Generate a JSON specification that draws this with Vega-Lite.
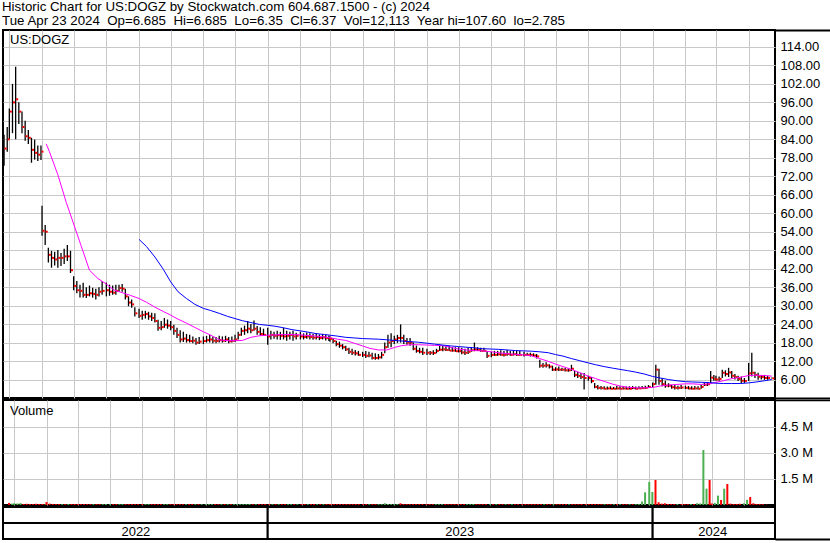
{
"$schema": "https://vega.github.io/schema/vega-lite/v6.json",
"background": "white",
"padding": {"left": 1, "top": 0, "right": 0, "bottom": 0},
"spacing": 2,
"bounds": "flush",
"resolve": {"scale": {"color": "independent", "x": "independent", "y": "independent"}},
"config": {
  "font": "Liberation Sans",
  "view": {"stroke": "black", "strokeWidth": 2},
  "axis": {"labelFont": "Liberation Sans", "labelFontSize": 13, "labelColor": "#000000", "gridColor": "#c8c8c8", "gridWidth": 1, "gridOpacity": 1, "ticks": false, "domain": false, "labelOverlap": false},
  "axisY": {"labelOverlap": false},
  "axisRight": {"labelOverlap": false},
  "axisQuantitative": {"labelOverlap": false}
},
"title": {
  "text": ["Historic Chart for US:DOGZ by Stockwatch.com 604.687.1500 - (c) 2024", "Tue Apr 23 2024\u00a0 Op=6.685\u00a0 Hi=6.685\u00a0 Lo=6.35\u00a0 Cl=6.37\u00a0 Vol=12,113\u00a0 Year hi=107.60\u00a0 lo=2.785"],
  "anchor": "start", "font": "Liberation Sans", "fontSize": 13.3, "fontWeight": "normal", "color": "#000000", "lineHeight": 14, "offset": 2, "dy": 1.5, "dx": 1
},
"datasets": {
"px": [
{"d":"2022-04-26","h":85.5,"l":75.4,"c":81,"v":120000,"dir":"dn"},
{"d":"2022-04-29","h":88,"l":80,"c":84,"v":80000,"dir":"up"},
{"d":"2022-05-01","h":94,"l":84,"c":93,"v":100000,"dir":"up"},
{"d":"2022-05-04","h":102,"l":86,"c":96,"v":90000,"dir":"up"},
{"d":"2022-05-07","h":107.6,"l":84,"c":97,"v":110000,"dir":"up"},
{"d":"2022-05-10","h":96,"l":89,"c":93,"v":60000,"dir":"dn"},
{"d":"2022-05-13","h":93,"l":86,"c":88,"v":70000,"dir":"dn"},
{"d":"2022-05-16","h":90,"l":83.5,"c":85,"v":60000,"dir":"dn"},
{"d":"2022-05-19","h":87,"l":82.5,"c":84.5,"v":50000,"dir":"dn"},
{"d":"2022-05-22","h":84.5,"l":76.4,"c":80.6,"v":70000,"dir":"dn"},
{"d":"2022-05-25","h":83.9,"l":77.4,"c":79.6,"v":60000,"dir":"dn"},
{"d":"2022-05-28","h":82,"l":77,"c":79,"v":60000,"dir":"dn"},
{"d":"2022-05-31","h":82,"l":77.3,"c":80,"v":50000,"dir":"up"},
{"d":"2022-06-01","h":62.4,"l":52.7,"c":54.3,"v":170000,"dir":"dn"},
{"d":"2022-06-04","h":56.2,"l":49.7,"c":54,"v":80000,"dir":"dn"},
{"d":"2022-06-07","h":48.8,"l":44,"c":46.5,"v":60000,"dir":"dn"},
{"d":"2022-06-10","h":47.8,"l":42.3,"c":45.5,"v":50000,"dir":"dn"},
{"d":"2022-06-13","h":47.5,"l":43,"c":45,"v":50000,"dir":"dn"},
{"d":"2022-06-16","h":48.1,"l":42.3,"c":45.5,"v":50000,"dir":"up"},
{"d":"2022-06-19","h":47.1,"l":42.9,"c":45.5,"v":50000,"dir":"dn"},
{"d":"2022-06-22","h":48.5,"l":43.5,"c":46,"v":60000,"dir":"up"},
{"d":"2022-06-25","h":49.7,"l":44.5,"c":46,"v":50000,"dir":"dn"},
{"d":"2022-06-28","h":47.8,"l":40.6,"c":41.5,"v":60000,"dir":"dn"},
{"d":"2022-07-01","h":39.5,"l":35,"c":36.4,"v":60000,"dir":"dn"},
{"d":"2022-07-04","h":38,"l":34,"c":35,"v":50000,"dir":"dn"},
{"d":"2022-07-07","h":36.8,"l":32.6,"c":34.8,"v":50000,"dir":"dn"},
{"d":"2022-07-10","h":37.4,"l":32.6,"c":33.5,"v":50000,"dir":"dn"},
{"d":"2022-07-13","h":36,"l":32.5,"c":33.5,"v":50000,"dir":"dn"},
{"d":"2022-07-16","h":36.5,"l":33,"c":34,"v":50000,"dir":"up"},
{"d":"2022-07-19","h":35.8,"l":32.6,"c":33.8,"v":50000,"dir":"dn"},
{"d":"2022-07-22","h":35.5,"l":32,"c":33.5,"v":50000,"dir":"dn"},
{"d":"2022-07-25","h":36,"l":33,"c":34.5,"v":50000,"dir":"up"},
{"d":"2022-07-28","h":38,"l":33.5,"c":34.8,"v":60000,"dir":"up"},
{"d":"2022-08-01","h":37.5,"l":33,"c":35,"v":50000,"dir":"up"},
{"d":"2022-08-04","h":36.8,"l":33.2,"c":34.5,"v":50000,"dir":"dn"},
{"d":"2022-08-07","h":36.5,"l":33.5,"c":34.2,"v":50000,"dir":"dn"},
{"d":"2022-08-10","h":36.8,"l":33.5,"c":34.8,"v":50000,"dir":"up"},
{"d":"2022-08-13","h":36.8,"l":34.5,"c":35.7,"v":50000,"dir":"up"},
{"d":"2022-08-16","h":37,"l":34.5,"c":35.5,"v":50000,"dir":"dn"},
{"d":"2022-08-19","h":35.5,"l":32,"c":33,"v":50000,"dir":"dn"},
{"d":"2022-08-22","h":33,"l":29.8,"c":31,"v":50000,"dir":"dn"},
{"d":"2022-08-25","h":32,"l":29.3,"c":30.4,"v":50000,"dir":"dn"},
{"d":"2022-08-28","h":29.5,"l":26.5,"c":27.5,"v":50000,"dir":"dn"},
{"d":"2022-09-01","h":29,"l":26,"c":26.7,"v":50000,"dir":"dn"},
{"d":"2022-09-04","h":28.3,"l":25.4,"c":27,"v":50000,"dir":"up"},
{"d":"2022-09-07","h":28.3,"l":25.8,"c":27.3,"v":50000,"dir":"up"},
{"d":"2022-09-10","h":28,"l":25.4,"c":26.5,"v":50000,"dir":"dn"},
{"d":"2022-09-13","h":27.7,"l":25,"c":26,"v":50000,"dir":"dn"},
{"d":"2022-09-16","h":27.5,"l":24.5,"c":25,"v":50000,"dir":"dn"},
{"d":"2022-09-19","h":25.4,"l":21.8,"c":22.8,"v":50000,"dir":"dn"},
{"d":"2022-09-22","h":25,"l":22,"c":23,"v":50000,"dir":"up"},
{"d":"2022-09-25","h":26,"l":22.8,"c":23.8,"v":50000,"dir":"up"},
{"d":"2022-09-28","h":25.5,"l":22.5,"c":23.5,"v":50000,"dir":"dn"},
{"d":"2022-10-01","h":25,"l":22,"c":23,"v":50000,"dir":"dn"},
{"d":"2022-10-04","h":23.8,"l":20.5,"c":21.8,"v":50000,"dir":"dn"},
{"d":"2022-10-07","h":22.8,"l":19.5,"c":20.5,"v":50000,"dir":"dn"},
{"d":"2022-10-10","h":22,"l":18,"c":19,"v":50000,"dir":"dn"},
{"d":"2022-10-13","h":21.5,"l":18.2,"c":19.3,"v":50000,"dir":"up"},
{"d":"2022-10-16","h":20.8,"l":18,"c":18.8,"v":50000,"dir":"dn"},
{"d":"2022-10-19","h":20.5,"l":18,"c":18.5,"v":50000,"dir":"dn"},
{"d":"2022-10-22","h":20,"l":17.8,"c":18.6,"v":50000,"dir":"up"},
{"d":"2022-10-25","h":19.5,"l":17.3,"c":18,"v":50000,"dir":"dn"},
{"d":"2022-10-28","h":19.8,"l":17.5,"c":18.3,"v":50000,"dir":"up"},
{"d":"2022-11-01","h":20,"l":17.5,"c":18.5,"v":50000,"dir":"up"},
{"d":"2022-11-04","h":20.2,"l":18,"c":18.8,"v":50000,"dir":"up"},
{"d":"2022-11-07","h":20.5,"l":18,"c":19,"v":50000,"dir":"up"},
{"d":"2022-11-10","h":20,"l":17.8,"c":18.6,"v":50000,"dir":"dn"},
{"d":"2022-11-13","h":19.8,"l":17.8,"c":18.5,"v":50000,"dir":"dn"},
{"d":"2022-11-16","h":20.2,"l":18,"c":18.8,"v":50000,"dir":"up"},
{"d":"2022-11-19","h":20,"l":18,"c":18.6,"v":50000,"dir":"dn"},
{"d":"2022-11-22","h":20.2,"l":18.2,"c":19,"v":50000,"dir":"up"},
{"d":"2022-11-25","h":19.8,"l":17.8,"c":18.4,"v":50000,"dir":"dn"},
{"d":"2022-11-28","h":20,"l":18,"c":18.6,"v":50000,"dir":"up"},
{"d":"2022-12-01","h":20.5,"l":18.2,"c":19,"v":50000,"dir":"up"},
{"d":"2022-12-04","h":21.5,"l":19,"c":20.5,"v":50000,"dir":"up"},
{"d":"2022-12-07","h":22.8,"l":20.2,"c":21.8,"v":50000,"dir":"up"},
{"d":"2022-12-10","h":23.5,"l":20.5,"c":22,"v":50000,"dir":"up"},
{"d":"2022-12-13","h":25,"l":21,"c":22.5,"v":60000,"dir":"up"},
{"d":"2022-12-16","h":24,"l":21,"c":22,"v":50000,"dir":"dn"},
{"d":"2022-12-19","h":25.2,"l":21.8,"c":22.5,"v":50000,"dir":"up"},
{"d":"2022-12-22","h":23.4,"l":20.5,"c":21.5,"v":50000,"dir":"dn"},
{"d":"2022-12-25","h":23,"l":20.2,"c":20.8,"v":50000,"dir":"dn"},
{"d":"2022-12-28","h":22.5,"l":20.2,"c":20.5,"v":50000,"dir":"dn"},
{"d":"2023-01-01","h":22.8,"l":17.3,"c":20,"v":50000,"dir":"dn"},
{"d":"2023-01-04","h":21.8,"l":19,"c":20.5,"v":50000,"dir":"up"},
{"d":"2023-01-07","h":21.5,"l":19.2,"c":20.2,"v":50000,"dir":"dn"},
{"d":"2023-01-10","h":21.8,"l":19,"c":20.4,"v":50000,"dir":"up"},
{"d":"2023-01-13","h":21.5,"l":18.9,"c":20.2,"v":50000,"dir":"dn"},
{"d":"2023-01-16","h":22.8,"l":19,"c":20,"v":50000,"dir":"dn"},
{"d":"2023-01-19","h":21.8,"l":18.6,"c":20.2,"v":50000,"dir":"up"},
{"d":"2023-01-22","h":21.5,"l":19,"c":20.5,"v":50000,"dir":"up"},
{"d":"2023-01-25","h":21.8,"l":18.6,"c":20,"v":50000,"dir":"dn"},
{"d":"2023-01-28","h":21.2,"l":19,"c":20.2,"v":50000,"dir":"up"},
{"d":"2023-02-01","h":21.5,"l":19,"c":20,"v":50000,"dir":"dn"},
{"d":"2023-02-04","h":21,"l":19,"c":19.8,"v":50000,"dir":"dn"},
{"d":"2023-02-07","h":21.3,"l":19.2,"c":20,"v":50000,"dir":"up"},
{"d":"2023-02-10","h":21,"l":19,"c":19.8,"v":50000,"dir":"dn"},
{"d":"2023-02-13","h":20.8,"l":18.9,"c":19.6,"v":50000,"dir":"dn"},
{"d":"2023-02-16","h":21,"l":19,"c":19.8,"v":50000,"dir":"up"},
{"d":"2023-02-19","h":20.6,"l":18.8,"c":19.5,"v":50000,"dir":"dn"},
{"d":"2023-02-22","h":20.8,"l":19,"c":19.7,"v":50000,"dir":"up"},
{"d":"2023-02-25","h":20.5,"l":18.7,"c":19.5,"v":50000,"dir":"dn"},
{"d":"2023-02-28","h":20.3,"l":18.5,"c":19.3,"v":50000,"dir":"dn"},
{"d":"2023-03-01","h":20,"l":18.3,"c":19.2,"v":50000,"dir":"dn"},
{"d":"2023-03-04","h":19.5,"l":17.8,"c":18.5,"v":50000,"dir":"dn"},
{"d":"2023-03-07","h":18.6,"l":16.8,"c":17.5,"v":50000,"dir":"dn"},
{"d":"2023-03-10","h":18.3,"l":16.3,"c":17,"v":50000,"dir":"dn"},
{"d":"2023-03-13","h":17.5,"l":15.8,"c":16.5,"v":50000,"dir":"dn"},
{"d":"2023-03-16","h":17,"l":15.3,"c":15.8,"v":50000,"dir":"dn"},
{"d":"2023-03-19","h":16.3,"l":14.3,"c":15,"v":50000,"dir":"dn"},
{"d":"2023-03-22","h":16,"l":14,"c":14.7,"v":50000,"dir":"dn"},
{"d":"2023-03-25","h":15.6,"l":13.8,"c":14.5,"v":50000,"dir":"dn"},
{"d":"2023-03-28","h":15.3,"l":13.7,"c":14,"v":50000,"dir":"dn"},
{"d":"2023-04-01","h":15,"l":13.3,"c":14,"v":50000,"dir":"dn"},
{"d":"2023-04-04","h":15.3,"l":13,"c":13.7,"v":50000,"dir":"dn"},
{"d":"2023-04-07","h":15,"l":13.2,"c":13.8,"v":50000,"dir":"up"},
{"d":"2023-04-10","h":14.7,"l":12.5,"c":13,"v":50000,"dir":"dn"},
{"d":"2023-04-13","h":14.5,"l":12.4,"c":13,"v":50000,"dir":"dn"},
{"d":"2023-04-16","h":14.3,"l":12.5,"c":13.2,"v":50000,"dir":"up"},
{"d":"2023-04-19","h":15,"l":12.8,"c":14,"v":50000,"dir":"up"},
{"d":"2023-04-22","h":18,"l":14.5,"c":16.5,"v":100000,"dir":"up"},
{"d":"2023-04-25","h":20.5,"l":16.3,"c":18,"v":60000,"dir":"up"},
{"d":"2023-04-28","h":21,"l":16.5,"c":18.5,"v":50000,"dir":"up"},
{"d":"2023-05-01","h":20.2,"l":17.5,"c":19,"v":50000,"dir":"up"},
{"d":"2023-05-04","h":20.5,"l":17.9,"c":19.5,"v":50000,"dir":"up"},
{"d":"2023-05-07","h":23.9,"l":18,"c":19.5,"v":100000,"dir":"dn"},
{"d":"2023-05-10","h":20.5,"l":17.5,"c":18.5,"v":50000,"dir":"dn"},
{"d":"2023-05-13","h":19.5,"l":17.3,"c":18,"v":50000,"dir":"dn"},
{"d":"2023-05-16","h":19.5,"l":17,"c":18,"v":50000,"dir":"dn"},
{"d":"2023-05-19","h":18,"l":15.5,"c":16,"v":50000,"dir":"dn"},
{"d":"2023-05-22","h":17,"l":14.7,"c":15.3,"v":50000,"dir":"dn"},
{"d":"2023-05-25","h":16.3,"l":14.5,"c":15,"v":50000,"dir":"dn"},
{"d":"2023-05-28","h":16.3,"l":14,"c":14.7,"v":50000,"dir":"dn"},
{"d":"2023-06-01","h":16,"l":14,"c":14.7,"v":50000,"dir":"dn"},
{"d":"2023-06-04","h":15.3,"l":14,"c":14.7,"v":50000,"dir":"dn"},
{"d":"2023-06-07","h":15.5,"l":14,"c":14.6,"v":50000,"dir":"dn"},
{"d":"2023-06-10","h":16,"l":14.5,"c":15.3,"v":50000,"dir":"up"},
{"d":"2023-06-13","h":16.9,"l":15.3,"c":15.7,"v":50000,"dir":"up"},
{"d":"2023-06-16","h":16.9,"l":15.2,"c":15.8,"v":50000,"dir":"up"},
{"d":"2023-06-19","h":16.8,"l":15.3,"c":15.6,"v":50000,"dir":"dn"},
{"d":"2023-06-22","h":16.9,"l":15.3,"c":15.4,"v":50000,"dir":"dn"},
{"d":"2023-06-25","h":16.6,"l":15,"c":15.4,"v":50000,"dir":"dn"},
{"d":"2023-06-28","h":16.5,"l":15,"c":15.2,"v":50000,"dir":"dn"},
{"d":"2023-07-01","h":16.5,"l":14.8,"c":15.2,"v":50000,"dir":"dn"},
{"d":"2023-07-04","h":16.3,"l":14.2,"c":14.8,"v":50000,"dir":"dn"},
{"d":"2023-07-07","h":16,"l":14,"c":14.7,"v":50000,"dir":"dn"},
{"d":"2023-07-10","h":16.3,"l":14.3,"c":15,"v":50000,"dir":"up"},
{"d":"2023-07-13","h":16.5,"l":15,"c":15.5,"v":50000,"dir":"up"},
{"d":"2023-07-16","h":18,"l":15.2,"c":15.8,"v":60000,"dir":"up"},
{"d":"2023-07-19","h":16.5,"l":15.3,"c":15.6,"v":50000,"dir":"dn"},
{"d":"2023-07-22","h":16.3,"l":15,"c":15.3,"v":50000,"dir":"dn"},
{"d":"2023-07-25","h":16.3,"l":15,"c":15.3,"v":50000,"dir":"dn"},
{"d":"2023-07-28","h":15.3,"l":13,"c":13.7,"v":50000,"dir":"dn"},
{"d":"2023-08-01","h":15,"l":13.2,"c":14,"v":50000,"dir":"up"},
{"d":"2023-08-04","h":15.3,"l":13.7,"c":14,"v":50000,"dir":"dn"},
{"d":"2023-08-07","h":15.3,"l":13.7,"c":14.2,"v":50000,"dir":"up"},
{"d":"2023-08-10","h":15.5,"l":13.7,"c":14,"v":50000,"dir":"dn"},
{"d":"2023-08-13","h":15.3,"l":13.5,"c":14,"v":50000,"dir":"dn"},
{"d":"2023-08-16","h":15.6,"l":13.7,"c":14.3,"v":50000,"dir":"up"},
{"d":"2023-08-19","h":15.3,"l":13.7,"c":14,"v":50000,"dir":"dn"},
{"d":"2023-08-22","h":15.3,"l":13.8,"c":14.2,"v":50000,"dir":"up"},
{"d":"2023-08-25","h":15.5,"l":13.7,"c":14,"v":50000,"dir":"dn"},
{"d":"2023-08-28","h":15.3,"l":13.7,"c":14,"v":50000,"dir":"dn"},
{"d":"2023-09-01","h":15,"l":13.5,"c":14,"v":50000,"dir":"dn"},
{"d":"2023-09-04","h":14.7,"l":13.7,"c":14,"v":50000,"dir":"dn"},
{"d":"2023-09-07","h":14.7,"l":13.5,"c":14,"v":50000,"dir":"dn"},
{"d":"2023-09-10","h":14.5,"l":13.3,"c":13.8,"v":50000,"dir":"dn"},
{"d":"2023-09-13","h":14.3,"l":12.8,"c":13.5,"v":50000,"dir":"dn"},
{"d":"2023-09-16","h":12.4,"l":9.8,"c":10.5,"v":60000,"dir":"dn"},
{"d":"2023-09-19","h":11.4,"l":9.8,"c":10.5,"v":50000,"dir":"dn"},
{"d":"2023-09-22","h":11.6,"l":9.9,"c":10.6,"v":50000,"dir":"up"},
{"d":"2023-09-25","h":11,"l":9.6,"c":10.2,"v":50000,"dir":"dn"},
{"d":"2023-09-28","h":10.5,"l":8.8,"c":9.2,"v":50000,"dir":"dn"},
{"d":"2023-10-01","h":10,"l":8.8,"c":9.3,"v":50000,"dir":"up"},
{"d":"2023-10-04","h":10.2,"l":8.8,"c":9.2,"v":50000,"dir":"dn"},
{"d":"2023-10-07","h":9.8,"l":8.8,"c":9.2,"v":50000,"dir":"dn"},
{"d":"2023-10-10","h":9.8,"l":8.6,"c":9,"v":50000,"dir":"dn"},
{"d":"2023-10-13","h":9.6,"l":8.5,"c":9,"v":50000,"dir":"dn"},
{"d":"2023-10-16","h":10.8,"l":8.8,"c":9.5,"v":50000,"dir":"up"},
{"d":"2023-10-19","h":8.8,"l":6.8,"c":7.5,"v":50000,"dir":"dn"},
{"d":"2023-10-22","h":8.5,"l":6.5,"c":7.2,"v":50000,"dir":"dn"},
{"d":"2023-10-25","h":8.2,"l":6.2,"c":6.8,"v":50000,"dir":"dn"},
{"d":"2023-10-28","h":8.1,"l":2.8,"c":6.5,"v":60000,"dir":"dn"},
{"d":"2023-11-01","h":7.2,"l":5.6,"c":6.5,"v":50000,"dir":"dn"},
{"d":"2023-11-04","h":6.8,"l":4.8,"c":5.5,"v":50000,"dir":"dn"},
{"d":"2023-11-07","h":4.9,"l":3.2,"c":3.6,"v":50000,"dir":"dn"},
{"d":"2023-11-10","h":4.2,"l":2.8,"c":3.3,"v":50000,"dir":"dn"},
{"d":"2023-11-13","h":3.9,"l":2.8,"c":3.2,"v":50000,"dir":"dn"},
{"d":"2023-11-16","h":3.8,"l":2.8,"c":3.0,"v":50000,"dir":"dn"},
{"d":"2023-11-19","h":3.7,"l":2.8,"c":3.1,"v":50000,"dir":"up"},
{"d":"2023-11-22","h":3.8,"l":2.8,"c":3.0,"v":50000,"dir":"dn"},
{"d":"2023-11-25","h":3.6,"l":2.8,"c":3.0,"v":50000,"dir":"dn"},
{"d":"2023-11-28","h":3.9,"l":2.8,"c":3.1,"v":50000,"dir":"up"},
{"d":"2023-12-01","h":3.8,"l":2.8,"c":3.0,"v":50000,"dir":"dn"},
{"d":"2023-12-04","h":3.9,"l":2.8,"c":3.1,"v":50000,"dir":"up"},
{"d":"2023-12-07","h":3.7,"l":2.8,"c":3.0,"v":50000,"dir":"dn"},
{"d":"2023-12-10","h":3.8,"l":2.785,"c":3.0,"v":50000,"dir":"dn"},
{"d":"2023-12-13","h":3.9,"l":2.9,"c":3.2,"v":50000,"dir":"up"},
{"d":"2023-12-16","h":3.7,"l":2.8,"c":3.0,"v":50000,"dir":"dn"},
{"d":"2023-12-19","h":3.8,"l":2.9,"c":3.1,"v":50000,"dir":"up"},
{"d":"2023-12-22","h":3.9,"l":2.9,"c":3.2,"v":60000,"dir":"up"},
{"d":"2023-12-25","h":4.0,"l":3.0,"c":3.3,"v":200000,"dir":"up"},
{"d":"2023-12-28","h":4.2,"l":3.3,"c":3.6,"v":730000,"dir":"up"},
{"d":"2024-01-01","h":5.0,"l":3.5,"c":4.5,"v":1330000,"dir":"up"},
{"d":"2024-01-04","h":10.8,"l":4.3,"c":9.2,"v":750000,"dir":"up"},
{"d":"2024-01-07","h":9.5,"l":4.3,"c":5.5,"v":1440000,"dir":"dn"},
{"d":"2024-01-10","h":6.5,"l":3.8,"c":4.5,"v":160000,"dir":"dn"},
{"d":"2024-01-13","h":5.6,"l":3.3,"c":4.0,"v":80000,"dir":"dn"},
{"d":"2024-01-16","h":4.8,"l":3.5,"c":4.0,"v":100000,"dir":"dn"},
{"d":"2024-01-19","h":4.3,"l":3.0,"c":3.5,"v":60000,"dir":"dn"},
{"d":"2024-01-22","h":4.3,"l":2.8,"c":3.3,"v":50000,"dir":"dn"},
{"d":"2024-01-25","h":4.0,"l":2.8,"c":3.3,"v":50000,"dir":"dn"},
{"d":"2024-01-28","h":4.2,"l":2.9,"c":3.4,"v":60000,"dir":"up"},
{"d":"2024-02-01","h":4.0,"l":2.9,"c":3.3,"v":50000,"dir":"dn"},
{"d":"2024-02-04","h":3.9,"l":2.8,"c":3.1,"v":50000,"dir":"dn"},
{"d":"2024-02-07","h":3.8,"l":2.8,"c":3.0,"v":50000,"dir":"dn"},
{"d":"2024-02-10","h":3.9,"l":2.8,"c":3.1,"v":60000,"dir":"up"},
{"d":"2024-02-13","h":3.8,"l":2.8,"c":3.0,"v":50000,"dir":"dn"},
{"d":"2024-02-16","h":4.2,"l":3.0,"c":3.6,"v":100000,"dir":"up"},
{"d":"2024-02-19","h":4.9,"l":3.9,"c":4.3,"v":90000,"dir":"up"},
{"d":"2024-02-22","h":5.0,"l":3.9,"c":4.5,"v":3170000,"dir":"up"},
{"d":"2024-02-25","h":8.8,"l":4.9,"c":6.6,"v":940000,"dir":"up"},
{"d":"2024-02-28","h":7.5,"l":5.6,"c":6.2,"v":1440000,"dir":"dn"},
{"d":"2024-03-01","h":7.2,"l":5.6,"c":6.0,"v":90000,"dir":"dn"},
{"d":"2024-03-04","h":7.0,"l":5.6,"c":6.2,"v":120000,"dir":"up"},
{"d":"2024-03-07","h":9.2,"l":6.5,"c":8.2,"v":540000,"dir":"up"},
{"d":"2024-03-10","h":9.0,"l":7.0,"c":7.8,"v":290000,"dir":"dn"},
{"d":"2024-03-13","h":9.8,"l":6.8,"c":8.3,"v":940000,"dir":"up"},
{"d":"2024-03-16","h":8.8,"l":6.5,"c":7.2,"v":1210000,"dir":"dn"},
{"d":"2024-03-19","h":7.8,"l":6.0,"c":6.8,"v":80000,"dir":"dn"},
{"d":"2024-03-22","h":7.2,"l":5.5,"c":6.2,"v":60000,"dir":"dn"},
{"d":"2024-03-25","h":7.0,"l":4.9,"c":5.6,"v":60000,"dir":"dn"},
{"d":"2024-03-28","h":6.5,"l":4.9,"c":5.5,"v":70000,"dir":"dn"},
{"d":"2024-04-01","h":11.4,"l":5.5,"c":8.0,"v":100000,"dir":"up"},
{"d":"2024-04-04","h":14.7,"l":7.0,"c":8.2,"v":300000,"dir":"up"},
{"d":"2024-04-07","h":8.5,"l":6.5,"c":7.5,"v":460000,"dir":"dn"},
{"d":"2024-04-10","h":8.2,"l":5.9,"c":6.9,"v":100000,"dir":"dn"},
{"d":"2024-04-13","h":7.5,"l":6.0,"c":6.8,"v":60000,"dir":"dn"},
{"d":"2024-04-16","h":7.5,"l":5.9,"c":6.5,"v":60000,"dir":"dn"},
{"d":"2024-04-19","h":7.2,"l":5.9,"c":6.5,"v":50000,"dir":"dn"},
{"d":"2024-04-23","h":6.685,"l":6.35,"c":6.37,"v":12113,"dir":"dn"}
],
"ma": [
{"d":"2022-06-05","s":"m1","v":82.5},{"d":"2022-06-08","s":"m1","v":80},{"d":"2022-06-16","s":"m1","v":72.5},{"d":"2022-06-24","s":"m1","v":63.5},
{"d":"2022-07-01","s":"m1","v":56.5},{"d":"2022-07-08","s":"m1","v":49.5},{"d":"2022-07-16","s":"m1","v":41.5},{"d":"2022-07-24","s":"m1","v":38.8},
{"d":"2022-08-01","s":"m1","v":37},{"d":"2022-08-08","s":"m1","v":35.1},{"d":"2022-08-16","s":"m1","v":34.2},{"d":"2022-08-24","s":"m1","v":33.3},
{"d":"2022-09-01","s":"m1","v":32.3},{"d":"2022-09-08","s":"m1","v":31.1},{"d":"2022-09-16","s":"m1","v":29.5},{"d":"2022-09-24","s":"m1","v":28.1},
{"d":"2022-10-01","s":"m1","v":26.9},{"d":"2022-10-08","s":"m1","v":25.6},{"d":"2022-10-16","s":"m1","v":24.3},{"d":"2022-10-24","s":"m1","v":22.9},
{"d":"2022-11-01","s":"m1","v":21.5},{"d":"2022-11-08","s":"m1","v":20.4},{"d":"2022-11-16","s":"m1","v":18.9},{"d":"2022-11-24","s":"m1","v":18.6},
{"d":"2022-12-01","s":"m1","v":18.6},{"d":"2022-12-08","s":"m1","v":18.7},{"d":"2022-12-16","s":"m1","v":19.7},{"d":"2022-12-24","s":"m1","v":20.2},
{"d":"2023-01-01","s":"m1","v":20.4},{"d":"2023-01-08","s":"m1","v":20.5},{"d":"2023-01-16","s":"m1","v":20.6},{"d":"2023-01-24","s":"m1","v":20.6},
{"d":"2023-02-01","s":"m1","v":20.5},{"d":"2023-02-08","s":"m1","v":20.3},{"d":"2023-02-16","s":"m1","v":20.1},{"d":"2023-02-24","s":"m1","v":19.8},
{"d":"2023-03-01","s":"m1","v":19.6},{"d":"2023-03-08","s":"m1","v":19.1},{"d":"2023-03-16","s":"m1","v":18.7},{"d":"2023-03-24","s":"m1","v":17.8},
{"d":"2023-04-01","s":"m1","v":16.9},{"d":"2023-04-08","s":"m1","v":16.1},{"d":"2023-04-16","s":"m1","v":15.6},{"d":"2023-04-24","s":"m1","v":15.6},
{"d":"2023-05-01","s":"m1","v":16.4},{"d":"2023-05-08","s":"m1","v":17},{"d":"2023-05-16","s":"m1","v":17.3},{"d":"2023-05-24","s":"m1","v":17.3},
{"d":"2023-06-01","s":"m1","v":17.2},{"d":"2023-06-08","s":"m1","v":17.1},{"d":"2023-06-16","s":"m1","v":17},{"d":"2023-06-24","s":"m1","v":16.4},
{"d":"2023-07-01","s":"m1","v":15.9},{"d":"2023-07-08","s":"m1","v":15.6},{"d":"2023-07-16","s":"m1","v":15.4},{"d":"2023-07-24","s":"m1","v":15.3},
{"d":"2023-08-01","s":"m1","v":15},{"d":"2023-08-08","s":"m1","v":14.7},{"d":"2023-08-16","s":"m1","v":14.4},{"d":"2023-08-24","s":"m1","v":14.2},
{"d":"2023-09-01","s":"m1","v":14},{"d":"2023-09-08","s":"m1","v":13.7},{"d":"2023-09-16","s":"m1","v":12.8},{"d":"2023-09-24","s":"m1","v":11.9},
{"d":"2023-10-01","s":"m1","v":11},{"d":"2023-10-08","s":"m1","v":10.2},{"d":"2023-10-16","s":"m1","v":9.3},{"d":"2023-10-24","s":"m1","v":8.2},
{"d":"2023-11-01","s":"m1","v":7.1},{"d":"2023-11-08","s":"m1","v":6.3},{"d":"2023-11-16","s":"m1","v":5.4},{"d":"2023-11-24","s":"m1","v":4.5},
{"d":"2023-12-01","s":"m1","v":3.9},{"d":"2023-12-08","s":"m1","v":3.5},{"d":"2023-12-16","s":"m1","v":3.3},{"d":"2023-12-24","s":"m1","v":3.3},
{"d":"2024-01-01","s":"m1","v":3.4},{"d":"2024-01-08","s":"m1","v":3.9},{"d":"2024-01-16","s":"m1","v":4.2},{"d":"2024-01-24","s":"m1","v":4.4},
{"d":"2024-02-01","s":"m1","v":4.6},{"d":"2024-02-08","s":"m1","v":4.6},{"d":"2024-02-16","s":"m1","v":4.4},{"d":"2024-02-24","s":"m1","v":4.6},
{"d":"2024-03-01","s":"m1","v":5.1},{"d":"2024-03-08","s":"m1","v":5.6},{"d":"2024-03-16","s":"m1","v":6.3},{"d":"2024-03-24","s":"m1","v":6.7},
{"d":"2024-04-01","s":"m1","v":7.3},{"d":"2024-04-08","s":"m1","v":7.4},{"d":"2024-04-16","s":"m1","v":7.3},{"d":"2024-04-23","s":"m1","v":7.1},
{"d":"2022-09-01","s":"m2","v":51.5},{"d":"2022-09-08","s":"m2","v":49.2},{"d":"2022-09-16","s":"m2","v":45.8},{"d":"2022-09-24","s":"m2","v":41.8},
{"d":"2022-10-01","s":"m2","v":37.7},{"d":"2022-10-08","s":"m2","v":34.5},{"d":"2022-10-16","s":"m2","v":32.3},{"d":"2022-10-24","s":"m2","v":30.4},
{"d":"2022-11-01","s":"m2","v":29.1},{"d":"2022-11-08","s":"m2","v":28.4},{"d":"2022-11-16","s":"m2","v":27.5},{"d":"2022-11-24","s":"m2","v":26.5},
{"d":"2022-12-01","s":"m2","v":25.8},{"d":"2022-12-08","s":"m2","v":25.1},{"d":"2022-12-16","s":"m2","v":24.5},{"d":"2022-12-24","s":"m2","v":23.9},
{"d":"2023-01-01","s":"m2","v":23.6},{"d":"2023-01-08","s":"m2","v":23.3},{"d":"2023-01-16","s":"m2","v":22.8},{"d":"2023-01-24","s":"m2","v":22.2},
{"d":"2023-02-01","s":"m2","v":21.8},{"d":"2023-02-08","s":"m2","v":21.4},{"d":"2023-02-16","s":"m2","v":20.9},{"d":"2023-02-24","s":"m2","v":20.6},
{"d":"2023-03-01","s":"m2","v":20.4},{"d":"2023-03-08","s":"m2","v":20.1},{"d":"2023-03-16","s":"m2","v":19.7},{"d":"2023-03-24","s":"m2","v":19.5},
{"d":"2023-04-01","s":"m2","v":19.3},{"d":"2023-04-08","s":"m2","v":19.2},{"d":"2023-04-16","s":"m2","v":19.1},{"d":"2023-04-24","s":"m2","v":18.9},
{"d":"2023-05-01","s":"m2","v":18.7},{"d":"2023-05-08","s":"m2","v":18.5},{"d":"2023-05-16","s":"m2","v":18.3},{"d":"2023-05-24","s":"m2","v":18.1},
{"d":"2023-06-01","s":"m2","v":17.8},{"d":"2023-06-08","s":"m2","v":17.5},{"d":"2023-06-16","s":"m2","v":17.2},{"d":"2023-06-24","s":"m2","v":16.9},
{"d":"2023-07-01","s":"m2","v":16.7},{"d":"2023-07-08","s":"m2","v":16.5},{"d":"2023-07-16","s":"m2","v":16.3},{"d":"2023-07-24","s":"m2","v":16},
{"d":"2023-08-01","s":"m2","v":15.9},{"d":"2023-08-08","s":"m2","v":15.8},{"d":"2023-08-16","s":"m2","v":15.6},{"d":"2023-08-24","s":"m2","v":15.4},
{"d":"2023-09-01","s":"m2","v":15.3},{"d":"2023-09-08","s":"m2","v":15.2},{"d":"2023-09-16","s":"m2","v":15},{"d":"2023-09-24","s":"m2","v":14.7},
{"d":"2023-10-01","s":"m2","v":14.1},{"d":"2023-10-08","s":"m2","v":13.6},{"d":"2023-10-16","s":"m2","v":12.8},{"d":"2023-10-24","s":"m2","v":12.1},
{"d":"2023-11-01","s":"m2","v":11.4},{"d":"2023-11-08","s":"m2","v":10.8},{"d":"2023-11-16","s":"m2","v":10.2},{"d":"2023-11-24","s":"m2","v":9.7},
{"d":"2023-12-01","s":"m2","v":9.3},{"d":"2023-12-08","s":"m2","v":8.9},{"d":"2023-12-16","s":"m2","v":8.4},{"d":"2023-12-24","s":"m2","v":7.8},
{"d":"2024-01-01","s":"m2","v":7.0},{"d":"2024-01-08","s":"m2","v":6.5},{"d":"2024-01-16","s":"m2","v":6.0},{"d":"2024-01-24","s":"m2","v":5.6},
{"d":"2024-02-01","s":"m2","v":5.3},{"d":"2024-02-08","s":"m2","v":5.2},{"d":"2024-02-16","s":"m2","v":5.1},{"d":"2024-02-24","s":"m2","v":5.0},
{"d":"2024-03-01","s":"m2","v":4.8},{"d":"2024-03-08","s":"m2","v":4.7},{"d":"2024-03-16","s":"m2","v":4.7},{"d":"2024-03-24","s":"m2","v":4.7},
{"d":"2024-04-01","s":"m2","v":4.9},{"d":"2024-04-08","s":"m2","v":5.2},{"d":"2024-04-16","s":"m2","v":5.6},{"d":"2024-04-23","s":"m2","v":6.0}
],
"yr": [
{"s":"2022-04-25","e":"2023-01-01","m":"2022-08-29","y":"2022"},
{"s":"2023-01-01","e":"2024-01-01","m":"2023-07-02","y":"2023"},
{"s":"2024-01-01","e":"2024-04-26","m":"2024-02-27","y":"2024"}
]
},
"vconcat": [
{
  "width": 772, "height": 368,
  "title": {"text": "US:DOGZ", "anchor": "start", "offset": -17.5, "dx": 7, "fontSize": 13, "fontWeight": "normal", "font": "Liberation Sans", "color": "#000000"},
  "layer": [
    {
      "data": {"name": "px"},
      "mark": {"type": "rule", "color": "#000000", "strokeWidth": 1.3},
      "encoding": {
        "x": {"field": "d", "type": "temporal", "scale": {"type": "utc", "domain": [{"year": 2022, "month": 4, "date": 25, "utc": true}, {"year": 2024, "month": 4, "date": 26, "utc": true}]}, "axis": {"grid": true, "labels": false, "ticks": false, "domain": false, "title": null, "tickCount": {"interval": "month", "step": 1}}},
        "y": {"field": "l", "type": "quantitative", "scale": {"domain": [0, 119.5], "nice": false, "zero": false}, "axis": {"orient": "right", "values": [0,6,12,18,24,30,36,42,48,54,60,66,72,78,84,90,96,102,108,114,119.5], "labelExpr": "datum.value < 1 || datum.value > 119 ? '' : format(datum.value, '.2f')", "labelFontSize": {"condition": {"test": "datum.value < 1 || datum.value > 119", "value": 0}, "value": 13}, "grid": true, "gridColor": {"condition": {"test": "datum.value < 1 || datum.value > 119", "value": "transparent"}, "value": "#c8c8c8"}, "ticks": true, "tickSize": 57, "tickWidth": 2, "tickColor": {"condition": {"test": "datum.value < 1 || datum.value > 119", "value": "#000000"}, "value": "transparent"}, "labelPadding": -52, "labelOverlap": false, "labelBound": false, "labelFlush": false, "title": null}},
        "y2": {"field": "h"}
      }
    },
    {
      "data": {"name": "px"},
      "mark": {"type": "square", "color": "#ff0000", "size": 4, "opacity": 1, "xOffset": 1.5},
      "encoding": {
        "x": {"field": "d", "type": "temporal", "axis": {"grid": true, "labels": false, "ticks": false, "domain": false, "title": null, "tickCount": {"interval": "month", "step": 1}}},
        "y": {"field": "c", "type": "quantitative", "axis": {"orient": "right", "values": [0,6,12,18,24,30,36,42,48,54,60,66,72,78,84,90,96,102,108,114,119.5], "labelExpr": "datum.value < 1 || datum.value > 119 ? '' : format(datum.value, '.2f')", "labelFontSize": {"condition": {"test": "datum.value < 1 || datum.value > 119", "value": 0}, "value": 13}, "grid": true, "gridColor": {"condition": {"test": "datum.value < 1 || datum.value > 119", "value": "transparent"}, "value": "#c8c8c8"}, "ticks": true, "tickSize": 57, "tickWidth": 2, "tickColor": {"condition": {"test": "datum.value < 1 || datum.value > 119", "value": "#000000"}, "value": "transparent"}, "labelPadding": -52, "labelOverlap": false, "labelBound": false, "labelFlush": false, "title": null}}
      }
    },
    {
      "data": {"name": "ma"},
      "mark": {"type": "line", "strokeWidth": 1},
      "encoding": {
        "x": {"field": "d", "type": "temporal", "axis": {"grid": true, "labels": false, "ticks": false, "domain": false, "title": null, "tickCount": {"interval": "month", "step": 1}}},
        "y": {"field": "v", "type": "quantitative", "axis": {"orient": "right", "values": [0,6,12,18,24,30,36,42,48,54,60,66,72,78,84,90,96,102,108,114,119.5], "labelExpr": "datum.value < 1 || datum.value > 119 ? '' : format(datum.value, '.2f')", "labelFontSize": {"condition": {"test": "datum.value < 1 || datum.value > 119", "value": 0}, "value": 13}, "grid": true, "gridColor": {"condition": {"test": "datum.value < 1 || datum.value > 119", "value": "transparent"}, "value": "#c8c8c8"}, "ticks": true, "tickSize": 57, "tickWidth": 2, "tickColor": {"condition": {"test": "datum.value < 1 || datum.value > 119", "value": "#000000"}, "value": "transparent"}, "labelPadding": -52, "labelOverlap": false, "labelBound": false, "labelFlush": false, "title": null}},
        "color": {"field": "s", "type": "nominal", "scale": {"domain": ["m1", "m2"], "range": ["#ff00ff", "#0000ff"]}, "legend": null}
      }
    }
  ]
},
{
  "width": 772, "height": 105,
  "title": {"text": "Volume", "anchor": "start", "offset": -19, "dx": 7, "fontSize": 13, "fontWeight": "normal", "font": "Liberation Sans", "color": "#000000"},
  "data": {"name": "px"},
  "mark": {"type": "bar", "size": 2},
  "encoding": {
    "x": {"field": "d", "type": "temporal", "scale": {"type": "utc", "domain": [{"year": 2022, "month": 4, "date": 25, "utc": true}, {"year": 2024, "month": 4, "date": 26, "utc": true}]}, "axis": {"grid": true, "labels": false, "ticks": false, "domain": false, "title": null, "tickCount": {"interval": "month", "step": 1}}},
    "y": {"field": "v", "type": "quantitative", "scale": {"domain": [0, 6050000], "nice": false}, "axis": {"orient": "right", "offset": 56, "domain": true, "domainColor": "#000000", "domainWidth": 2, "values": [1500000, 3000000, 4500000, 6050000], "labelExpr": "datum.value > 5000000 ? '' : format(datum.value / 1000000, '.1f') + ' M'", "labelFontSize": {"condition": {"test": "datum.value > 5000000", "value": 0}, "value": 13}, "grid": true, "gridColor": {"condition": {"test": "datum.value > 5000000", "value": "transparent"}, "value": "#c8c8c8"}, "ticks": true, "tickSize": -56, "tickWidth": 1.5, "tickColor": {"condition": {"test": "datum.value > 5000000", "value": "#000000"}, "value": "transparent"}, "labelPadding": 5, "labelOverlap": false, "labelBound": false, "labelFlush": false, "title": null}},
    "color": {"field": "dir", "type": "nominal", "scale": {"domain": ["up", "dn"], "range": ["#4caf50", "#ff0000"]}, "legend": null}
  }
},
{
  "width": 772, "height": 32,
  "data": {"name": "yr"},
  "layer": [
    {
      "mark": {"type": "rect", "fill": "#ffffff", "stroke": "#000000", "strokeWidth": 2},
      "encoding": {
        "x": {"field": "s", "type": "temporal", "scale": {"type": "utc", "domain": [{"year": 2022, "month": 4, "date": 25, "utc": true}, {"year": 2024, "month": 4, "date": 26, "utc": true}]}, "axis": null},
        "x2": {"field": "e"},
        "y": {"datum": 0, "type": "quantitative", "scale": {"domain": [0, 2], "nice": false}, "axis": {"orient": "right", "offset": 56, "domain": true, "domainColor": "#000000", "domainWidth": 2, "values": [0], "labels": false, "grid": false, "ticks": true, "tickSize": -56, "tickWidth": 2, "tickColor": "#000000", "title": null}},
        "y2": {"datum": 2}
      }
    },
    {
      "mark": {"type": "rule", "color": "#000000", "strokeWidth": 2},
      "encoding": {"y": {"datum": 1, "type": "quantitative"}}
    },
    {
      "mark": {"type": "text", "font": "Liberation Sans", "fontSize": 13, "color": "#000000", "baseline": "middle", "dy": 1},
      "encoding": {
        "x": {"field": "m", "type": "temporal"},
        "y": {"datum": 0.5, "type": "quantitative"},
        "text": {"field": "y"}
      }
    }
  ]
}
]
}
